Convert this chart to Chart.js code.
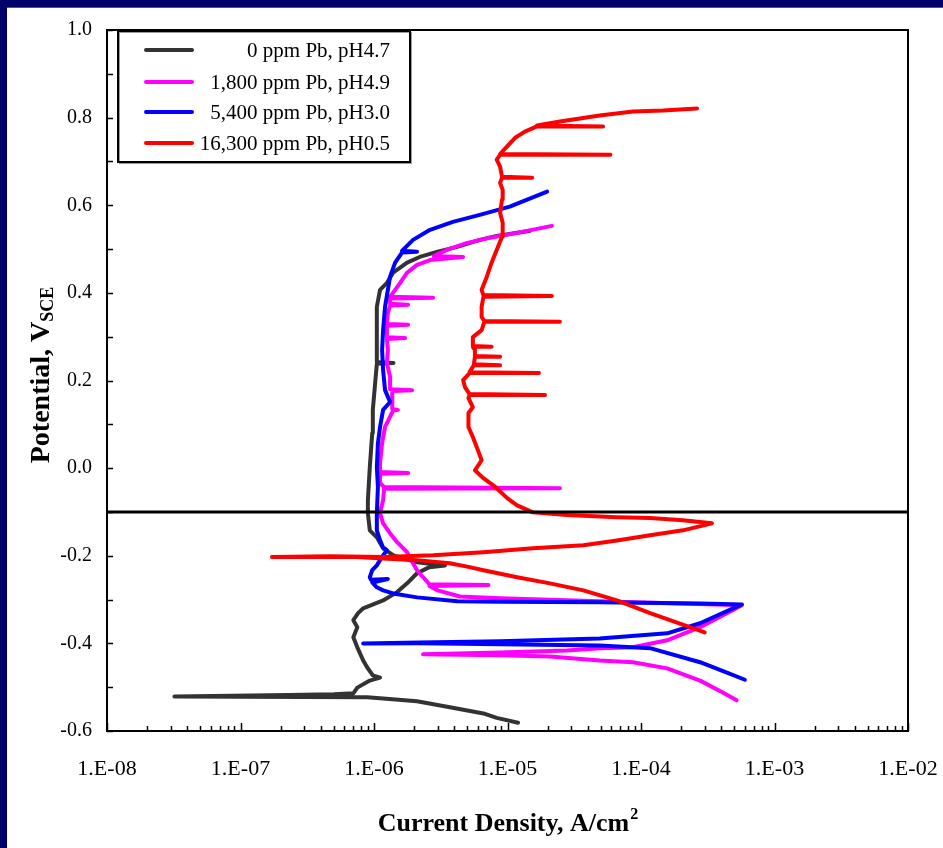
<!DOCTYPE html>
<html>
<head>
<meta charset="utf-8">
<script src="https://cdn.jsdelivr.net/npm/chart.js@4.4.0/dist/chart.umd.min.js"></script>
<style>
html, body { margin: 0; padding: 0; background: #fff; }
#wrap { position: relative; width: 943px; height: 848px; }
</style>
</head>
<body>
<div id="wrap"><canvas id="myChart" width="943" height="848"></canvas></div>
<script>

// series: [current density A/cm2, potential V]

const pb0 = [
  [1.2e-5,-0.581],[8.3e-6,-0.570],[6.6e-6,-0.560],[3.7e-6,-0.546],[2.1e-6,-0.532],[1.17e-6,-0.526],
  [8.9e-7,-0.523],[3.2e-8,-0.521],[2.3e-7,-0.518],[5.0e-7,-0.516],[7.0e-7,-0.514],[7.5e-7,-0.501],
  [9.3e-7,-0.485],[1.11e-6,-0.478],[9.8e-7,-0.473],[8.9e-7,-0.455],[8.3e-7,-0.439],[7.5e-7,-0.409],
  [7.0e-7,-0.386],[7.5e-7,-0.363],[7.0e-7,-0.347],[7.6e-7,-0.331],[8.3e-7,-0.320],[1.17e-6,-0.302],
  [1.49e-6,-0.283],[1.77e-6,-0.263],[2.1e-6,-0.240],[2.6e-6,-0.226],[3.4e-6,-0.222],[2.1e-6,-0.215],
  [1.4e-6,-0.199],[1.17e-6,-0.183],[1.05e-6,-0.158],[9.3e-7,-0.142],[9.0e-7,-0.103],[9.0e-7,-0.073],
  [9.3e-7,0.002],[9.7e-7,0.080],[9.8e-7,0.133],[1.02e-6,0.194],[1.05e-6,0.238],[1.4e-6,0.240],
  [1.05e-6,0.242],[1.05e-6,0.299],[1.05e-6,0.368],[1.11e-6,0.407],[1.25e-6,0.423],[1.39e-6,0.446],
  [1.77e-6,0.469],[2.2e-6,0.482],[3.0e-6,0.494],[4.2e-6,0.505],[6.2e-6,0.521],[8.3e-6,0.530],[1.48e-5,0.542]
];

const pb1800 = [
  [5.2e-4,-0.530],[4.1e-4,-0.512],[2.77e-4,-0.485],[1.57e-4,-0.457],[8.7e-5,-0.443],[4.9e-5,-0.439],
  [2.08e-5,-0.430],[8.8e-6,-0.427],[2.33e-6,-0.425],[8.8e-6,-0.421],[2.8e-5,-0.416],[4.9e-5,-0.411],
  [8.7e-5,-0.409],[1.57e-4,-0.393],[2.77e-4,-0.363],[4.4e-4,-0.331],[5.7e-4,-0.313],[4.9e-5,-0.304],
  [8.8e-6,-0.297],[4.4e-6,-0.293],[3.0e-6,-0.279],[2.6e-6,-0.269],[7.2e-6,-0.267],[2.6e-6,-0.265],
  [2.33e-6,-0.249],[2.1e-6,-0.233],[1.96e-6,-0.217],[1.77e-6,-0.192],[1.49e-6,-0.169],[1.32e-6,-0.149],
  [1.17e-6,-0.126],[1.11e-6,-0.103],[1.17e-6,-0.073],[1.19e-6,-0.047],[2.47e-5,-0.046],[1.19e-6,-0.043],
  [1.11e-6,-0.034],[1.11e-6,-0.013],[1.8e-6,-0.011],[1.11e-6,-0.009],[1.11e-6,0.011],[1.15e-6,0.057],
  [1.21e-6,0.094],[1.39e-6,0.131],[1.51e-6,0.133],[1.37e-6,0.135],[1.37e-6,0.176],[1.93e-6,0.178],
  [1.32e-6,0.180],[1.32e-6,0.208],[1.25e-6,0.240],[1.27e-6,0.270],[1.25e-6,0.295],[1.71e-6,0.297],
  [1.25e-6,0.299],[1.25e-6,0.325],[1.8e-6,0.327],[1.25e-6,0.329],[1.27e-6,0.354],[1.32e-6,0.371],
  [1.8e-6,0.373],[1.32e-6,0.375],[1.32e-6,0.387],[2.77e-6,0.389],[1.32e-6,0.391],[1.44e-6,0.407],
  [1.57e-6,0.423],[1.77e-6,0.446],[2.1e-6,0.464],[2.63e-6,0.475],[4.65e-6,0.482],[2.8e-6,0.484],
  [3.5e-6,0.498],[5.0e-6,0.514],[7.4e-6,0.526],[1.18e-5,0.537],[2.15e-5,0.553]
];

const pb5400 = [
  [6.0e-4,-0.483],[4.4e-4,-0.467],[2.77e-4,-0.443],[1.17e-4,-0.411],[4.9e-5,-0.405],[8.8e-6,-0.402],
  [2.2e-6,-0.400],[8.3e-7,-0.400],[2.2e-6,-0.398],[8.8e-6,-0.395],[4.9e-5,-0.389],[1.57e-4,-0.377],
  [2.77e-4,-0.354],[5.7e-4,-0.311],[2.77e-4,-0.309],[4.9e-5,-0.306],[8.8e-6,-0.305],[4.2e-6,-0.304],
  [2.1e-6,-0.295],[1.39e-6,-0.286],[1.17e-6,-0.279],[1.05e-6,-0.272],[9.7e-7,-0.261],[1.27e-6,-0.253],
  [9.5e-7,-0.255],[9.3e-7,-0.249],[9.7e-7,-0.233],[1.05e-6,-0.222],[1.11e-6,-0.210],[1.17e-6,-0.199],
  [1.25e-6,-0.187],[1.17e-6,-0.181],[1.11e-6,-0.165],[1.05e-6,-0.142],[1.05e-6,-0.103],[1.07e-6,-0.043],
  [1.05e-6,0.002],[1.07e-6,0.057],[1.11e-6,0.094],[1.17e-6,0.133],[1.32e-6,0.151],[1.21e-6,0.178],
  [1.17e-6,0.224],[1.15e-6,0.270],[1.17e-6,0.315],[1.21e-6,0.368],[1.27e-6,0.407],[1.32e-6,0.437],
  [1.44e-6,0.469],[1.62e-6,0.492],[2.1e-6,0.494],[1.62e-6,0.496],[1.96e-6,0.521],[2.63e-6,0.544],
  [3.9e-6,0.562],[6.2e-6,0.578],[1.04e-5,0.597],[1.98e-5,0.631]
];

const pb16300 = [
  [3.0e-4,-0.375],[1.17e-4,-0.331],[6.6e-5,-0.302],[3.7e-5,-0.279],[2.08e-5,-0.263],[1.18e-5,-0.249],
  [6.6e-6,-0.233],[5.2e-6,-0.226],[3.7e-6,-0.217],[2.1e-6,-0.210],[1.17e-6,-0.206],[7.4e-7,-0.203],
  [1.72e-7,-0.203],[4.7e-7,-0.201],[1.17e-6,-0.203],[2.77e-6,-0.199],[6.6e-6,-0.192],[1.55e-5,-0.183],
  [3.7e-5,-0.176],[6.6e-5,-0.165],[1.17e-4,-0.153],[2.06e-4,-0.142],[3.4e-4,-0.126],[2.06e-4,-0.119],
  [1.17e-4,-0.114],[6.6e-5,-0.112],[2.8e-5,-0.107],[1.55e-5,-0.101],[1.18e-5,-0.085],[1.0e-5,-0.069],
  [8.1e-6,-0.043],[6.6e-6,-0.023],[5.7e-6,-0.005],[6.4e-6,0.018],[6.0e-6,0.041],[5.5e-6,0.071],
  [5.1e-6,0.094],[5.1e-6,0.126],[5.5e-6,0.139],[5.1e-6,0.160],[5.2e-6,0.167],[1.91e-5,0.167],
  [5.2e-6,0.169],[4.8e-6,0.185],[4.65e-6,0.201],[5.2e-6,0.217],[1.72e-5,0.217],[5.2e-6,0.219],
  [5.5e-6,0.231],[5.6e-6,0.235],[8.8e-6,0.235],[5.6e-6,0.237],[5.7e-6,0.254],[8.8e-6,0.254],
  [5.7e-6,0.256],[5.7e-6,0.270],[5.5e-6,0.277],[7.6e-6,0.277],[5.5e-6,0.279],[5.5e-6,0.299],
  [6.4e-6,0.315],[6.7e-6,0.334],[2.47e-5,0.334],[6.7e-6,0.336],[6.4e-6,0.345],[6.4e-6,0.368],
  [6.6e-6,0.391],[2.15e-5,0.393],[6.6e-6,0.395],[6.4e-6,0.407],[7.0e-6,0.437],[7.6e-6,0.469],
  [8.3e-6,0.498],[9.1e-6,0.528],[9.2e-6,0.560],[8.8e-6,0.583],[9.1e-6,0.613],[9.2e-6,0.635],
  [8.8e-6,0.651],[9.1e-6,0.663],[1.53e-5,0.663],[9.1e-6,0.665],[8.8e-6,0.688],[8.3e-6,0.704],
  [8.8e-6,0.715],[5.9e-5,0.715],[8.8e-6,0.717],[9.9e-6,0.734],[1.14e-5,0.754],[1.35e-5,0.768],
  [1.66e-5,0.780],[5.2e-5,0.780],[1.66e-5,0.782],[2.47e-5,0.791],[4.9e-5,0.805],[8.7e-5,0.814],
  [1.46e-4,0.816],[2.63e-4,0.821]
];

const seriesLabels = ['0 ppm Pb, pH4.7', '1,800 ppm Pb, pH4.9', '5,400 ppm Pb, pH3.0', '16,300 ppm Pb, pH0.5'];
const seriesColors = ['#333333', '#ff00ff', '#0000ff', '#ff0000'];

// horizontal reference line
const refPotential = -0.1;

// axes
const xTickValues = [1e-8, 1e-7, 1e-6, 1e-5, 1e-4, 1e-3, 1e-2];
const xTickLabels = ['1.E-08', '1.E-07', '1.E-06', '1.E-05', '1.E-04', '1.E-03', '1.E-02'];
const yTickValues = [-0.6, -0.4, -0.2, 0.0, 0.2, 0.4, 0.6, 0.8, 1.0];
const yTickLabels = ['-0.6', '-0.4', '-0.2', '0.0', '0.2', '0.4', '0.6', '0.8', '1.0'];
const xTitle = 'Current Density, A/cm';
const xTitleSup = '2';
const yTitle = 'Potential, V';
const yTitleSub = 'SCE';

const serif = "'Liberation Serif', 'Times New Roman', serif";
Chart.defaults.font.family = serif;
Chart.defaults.color = '#000';

const toXY = arr => arr.map(p => ({ x: p[0], y: p[1] }));

let allSeries = [pb0, pb1800, pb5400, pb16300];
let datasets = allSeries.map((s, i) => ({
  label: seriesLabels[i],
  data: toXY(s),
  showLine: true,
  borderColor: seriesColors[i],
  backgroundColor: seriesColors[i],
  borderWidth: 4,
  pointRadius: 0,
  tension: 0,
  borderJoinStyle: 'round',
  borderCapStyle: 'round',
  order: 4 - i
}));

datasets.push({
  label: 'ref',
  data: [{ x: xTickValues[0], y: refPotential }, { x: xTickValues[xTickValues.length - 1], y: refPotential }],
  showLine: true,
  borderColor: '#000',
  borderWidth: 3,
  pointRadius: 0,
  order: 0
});

// frame, inward ticks, legend box, titles
const decorPlugin = {
  id: 'decor',
  beforeDraw(c) {
    const g = c.ctx;
    g.save();
    g.fillStyle = '#fff';
    g.fillRect(0, 0, c.width, c.height);
    g.fillStyle = '#00006a';
    g.fillRect(0, 0, c.width, 7);
    g.fillRect(0, 0, 7, c.height);
    g.fillStyle = '#555';
    g.fillRect(7, 7, c.width - 7, 1);
    g.restore();
  },
  afterDatasetsDraw(c) {
    const g = c.ctx;
    const a = c.chartArea;
    const x = c.scales.x, y = c.scales.y;
    g.save();
    g.strokeStyle = '#000';
    g.lineWidth = 1.5;

    // x minor / major ticks pointing up
    g.beginPath();
    for (let k = -8; k < -2; k++) {
      for (let m = 1; m <= 9; m++) {
        const px = Math.round(x.getPixelForValue(m * Math.pow(10, k))) + 0.5;
        const len = m === 1 ? 8 : 5;
        g.moveTo(px, a.bottom);
        g.lineTo(px, a.bottom - len);
      }
    }
    const pEnd = Math.round(x.getPixelForValue(1e-2)) + 0.5;
    g.moveTo(pEnd, a.bottom);
    g.lineTo(pEnd, a.bottom - 8);

    // y ticks pointing right
    for (let i = 0; i <= 16; i++) {
      const v = -0.6 + i * 0.1;
      const py = Math.round(y.getPixelForValue(v)) + 0.5;
      g.moveTo(a.left, py);
      g.lineTo(a.left + 6, py);
    }
    g.stroke();

    // plot frame
    g.lineWidth = 2;
    g.strokeRect(a.left, a.top, a.right - a.left, a.bottom - a.top);

    // legend
    const lx = 118, ly = 31, lw = 292, lh = 131;
    g.fillStyle = '#fff';
    g.fillRect(lx, ly, lw, lh);
    g.strokeStyle = '#999';
    g.lineWidth = 1;
    g.strokeRect(lx + 1.5, ly + 1.5, lw, lh);
    g.strokeStyle = '#000';
    g.lineWidth = 2;
    g.strokeRect(lx, ly, lw, lh);
    const rows = [50, 82, 112, 143];
    g.font = '21px ' + serif;
    g.textAlign = 'right';
    g.textBaseline = 'middle';
    c.data.datasets.slice(0, 4).forEach((d, i) => {
      g.strokeStyle = d.borderColor;
      g.lineWidth = 4;
      g.lineCap = 'round';
      g.beginPath();
      g.moveTo(146, rows[i]);
      g.lineTo(192, rows[i]);
      g.stroke();
      g.fillStyle = '#000';
      g.fillText(d.label, 390, rows[i] + 1);
    });

    // x title with superscript
    g.fillStyle = '#000';
    g.textAlign = 'left';
    g.textBaseline = 'alphabetic';
    const fMain = 'bold 26px ' + serif, fSup = 'bold 16px ' + serif;
    g.font = fMain;
    const w1 = g.measureText(xTitle).width;
    g.font = fSup;
    const w2 = g.measureText(xTitleSup).width;
    const cx = (a.left + a.right) / 2;
    let sx = cx - (w1 + w2) / 2;
    g.font = fMain;
    g.fillText(xTitle, sx, 831);
    g.font = fSup;
    g.fillText(xTitleSup, sx + w1 + 1, 819);

    // y title, rotated, with subscript
    const yMain = 'bold 28px ' + serif, ySub = 'bold 18px ' + serif;
    g.font = yMain;
    const v1 = g.measureText(yTitle).width;
    g.font = ySub;
    const v2 = g.measureText(yTitleSub).width;
    g.translate(49, 375);
    g.rotate(-Math.PI / 2);
    const st = -(v1 + v2) / 2;
    g.font = yMain;
    g.fillText(yTitle, st, 0);
    g.font = ySub;
    g.fillText(yTitleSub, st + v1, 4);
    g.restore();
  }
};

let chartCtx = document.getElementById('myChart').getContext('2d');

let polChart = new Chart(chartCtx, {
  type: 'scatter',
  data: { datasets: datasets },
  options: {
    responsive: false,
    animation: false,
    devicePixelRatio: 1,
    layout: { padding: { top: 30, right: 35, left: 0, bottom: 0 } },
    plugins: {
      legend: { display: false },
      tooltip: { enabled: false }
    },
    scales: {
      x: {
        type: 'logarithmic',
        min: 1e-8,
        max: 1e-2,
        border: { display: false },
        grid: { display: false, drawTicks: false },
        afterBuildTicks: s => { s.ticks = xTickValues.map(v => ({ value: v })); },
        afterFit: s => { s.height = 117; s.paddingLeft = 0; s.paddingRight = 0; },
        ticks: {
          autoSkip: false,
          maxRotation: 0,
          padding: 25,
          color: '#000',
          font: { size: 22 },
          callback: (v, i) => xTickLabels[i]
        }
      },
      y: {
        min: -0.6,
        max: 1.0,
        border: { display: false },
        grid: { display: false, drawTicks: false },
        afterBuildTicks: s => { s.ticks = yTickValues.map(v => ({ value: v })); },
        afterFit: s => { s.width = 107; s.paddingTop = 0; s.paddingBottom = 0; },
        ticks: {
          autoSkip: false,
          padding: 15,
          color: '#000',
          font: { size: 20 },
          callback: (v, i) => yTickLabels[i]
        }
      }
    }
  },
  plugins: [decorPlugin]
});

</script>
</body>
</html>
